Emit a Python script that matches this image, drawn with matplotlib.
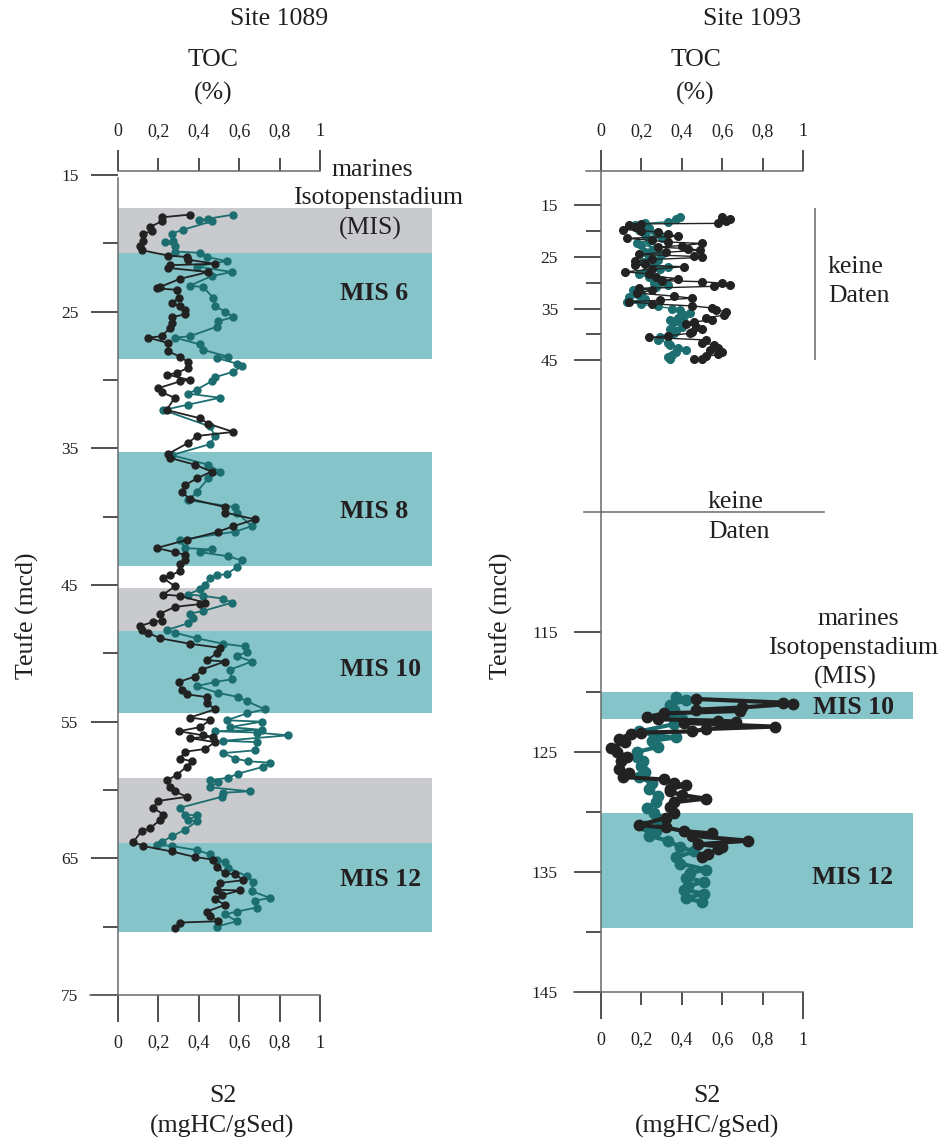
import matplotlib
matplotlib.use('Agg')
import matplotlib.pyplot as plt

plt.rcParams['font.family'] = ['Liberation Serif', 'DejaVu Serif']

# Site 1089 (Teufe in mcd, Werte 0..1)
toc_1089_depth = [17.9, 18.1, 18.4, 18.8, 19.1, 19.3, 19.8, 20.2, 20.5, 20.9, 21.0, 21.2, 21.5, 21.6, 21.8,
                  22.1, 22.6, 23.2, 23.3, 23.4, 24.0, 24.4, 24.6, 24.9, 25.2, 25.4, 25.8, 26.2, 26.8, 26.9,
                  27.3, 27.9, 28.3, 28.7, 29.1, 29.5, 29.6, 30.0, 30.1, 30.6, 30.9, 31.3, 32.2, 32.8, 33.2,
                  33.8, 34.1, 34.6, 35.4, 35.7, 36.2, 36.7, 37.2, 37.7, 38.2, 38.7, 39.3, 39.7, 40.2, 40.7,
                  41.1, 41.7, 42.3, 42.6, 42.8, 43.2, 43.5, 44.0, 44.3, 44.5, 45.1, 45.7, 45.8, 46.3, 46.4,
                  46.6, 47.1, 47.6, 47.7, 48.0, 48.3, 48.5, 48.9, 49.3, 49.6, 50.0, 50.5, 50.6, 51.2, 51.7,
                  52.1, 52.7, 53.0, 53.2, 53.6, 54.1, 54.7, 54.9, 55.4, 55.7, 56.0, 56.1, 56.2, 56.5, 57.0,
                  57.2, 57.7, 57.9, 58.3, 58.9, 59.3, 59.8, 60.1, 60.5, 60.8, 61.3, 61.8, 62.2, 62.8, 63.0,
                  63.8, 64.1, 64.5, 64.9, 65.1, 65.6, 66.1, 66.15, 66.6, 66.8, 67.3, 67.35, 67.7, 68.0, 68.4,
                  68.9, 69.2, 69.6, 69.7, 70.1]
toc_1089 = [0.356, 0.216, 0.216, 0.158, 0.167, 0.125, 0.125, 0.109, 0.117, 0.249, 0.340, 0.348, 0.48, 0.257, 0.249,
            0.447, 0.307, 0.208, 0.191, 0.29, 0.30, 0.266, 0.307, 0.332, 0.332, 0.266, 0.266, 0.257, 0.216, 0.15,
            0.249, 0.249, 0.307, 0.348, 0.348, 0.29, 0.241, 0.356, 0.307, 0.2, 0.216, 0.28, 0.241, 0.406, 0.447,
            0.571, 0.39, 0.348, 0.249, 0.257, 0.381, 0.463, 0.39, 0.332, 0.315, 0.356, 0.53, 0.53, 0.678, 0.571,
            0.497, 0.34, 0.191, 0.282, 0.332, 0.332, 0.307, 0.307, 0.257, 0.224, 0.282, 0.224, 0.307, 0.431, 0.406,
            0.282, 0.208, 0.216, 0.175, 0.109, 0.117, 0.15, 0.208, 0.356, 0.505, 0.489, 0.439, 0.53, 0.414, 0.381,
            0.30, 0.315, 0.34, 0.439, 0.439, 0.48, 0.356, 0.455, 0.406, 0.30, 0.422, 0.472, 0.356, 0.48, 0.431,
            0.332, 0.307, 0.365, 0.34, 0.29, 0.241, 0.257, 0.282, 0.34, 0.2, 0.175, 0.224, 0.208, 0.158, 0.117,
            0.076, 0.125, 0.266, 0.381, 0.472, 0.489, 0.53, 0.579, 0.62, 0.505, 0.489, 0.604, 0.513, 0.48, 0.53,
            0.439, 0.455, 0.497, 0.307, 0.282]

s2_1089_depth = [17.9, 18.2, 18.3, 18.4, 19.0, 19.3, 19.8, 19.9, 20.2, 20.6, 20.7, 21.0, 21.3, 21.7, 22.1,
                 22.4, 23.1, 23.2, 24.0, 24.6, 25.0, 25.4, 25.7, 26.1, 26.8, 26.9, 27.4, 27.8, 28.3, 28.4,
                 28.8, 29.0, 29.4, 29.8, 30.1, 30.7, 31.0, 31.3, 31.8, 32.2, 33.4, 34.1, 34.7, 35.5, 36.2,
                 36.7, 37.2, 38.2, 38.8, 39.3, 39.7, 40.7, 41.1, 41.7, 42.3, 42.4, 42.6, 42.9, 43.2, 43.7,
                 44.2, 44.3, 44.5, 45.0, 45.3, 45.7, 45.8, 46.0, 46.3, 46.9, 47.1, 47.4, 47.8, 48.3, 48.5,
                 48.9, 49.3, 49.5, 49.9, 50.2, 50.6, 51.2, 51.9, 52.1, 52.4, 52.9, 53.2, 53.5, 54.1, 54.4,
                 54.9, 55.0, 55.4, 55.6, 55.7, 55.8, 56.0, 56.4, 56.5, 57.1, 57.3, 57.7, 57.9, 58.0, 58.3,
                 58.8, 59.1, 59.3, 59.4, 59.8, 60.1, 60.2, 60.5, 61.3, 61.8, 61.85, 62.2, 62.3, 62.9, 63.4,
                 63.8, 64.0, 64.1, 64.4, 64.7, 65.1, 65.3, 65.7, 66.3, 66.7, 67.4, 67.9, 68.1, 68.6, 68.9,
                 69.1, 69.6, 70.0]
s2_1089 = [0.571, 0.447, 0.40, 0.463, 0.323, 0.266, 0.274, 0.233, 0.282, 0.282, 0.406, 0.439, 0.538, 0.39, 0.563,
           0.463, 0.356, 0.422, 0.472, 0.48, 0.53, 0.571, 0.497, 0.489, 0.356, 0.282, 0.406, 0.422, 0.546, 0.489,
           0.588, 0.612, 0.571, 0.48, 0.463, 0.39, 0.348, 0.505, 0.348, 0.224, 0.455, 0.48, 0.455, 0.266, 0.447,
           0.505, 0.447, 0.39, 0.348, 0.579, 0.588, 0.662, 0.579, 0.307, 0.332, 0.463, 0.406, 0.546, 0.612, 0.588,
           0.538, 0.489, 0.455, 0.431, 0.406, 0.348, 0.422, 0.521, 0.563, 0.422, 0.356, 0.373, 0.348, 0.241, 0.282,
           0.39, 0.521, 0.629, 0.637, 0.588, 0.662, 0.554, 0.563, 0.48, 0.39, 0.497, 0.596, 0.637, 0.728, 0.637,
           0.538, 0.711, 0.554, 0.711, 0.48, 0.687, 0.843, 0.521, 0.687, 0.678, 0.521, 0.579, 0.645, 0.752, 0.719,
           0.596, 0.546, 0.455, 0.497, 0.455, 0.653, 0.521, 0.513, 0.307, 0.332, 0.39, 0.348, 0.39, 0.332, 0.266,
           0.216, 0.191, 0.266, 0.39, 0.455, 0.489, 0.53, 0.546, 0.637, 0.67, 0.662, 0.752, 0.678, 0.687, 0.588,
           0.53, 0.588, 0.489]

# Site 1093, oberer Abschnitt
toc_1093a_depth = [17.3, 17.6, 18.0, 18.5, 18.6, 18.9, 19.3, 19.7, 19.9, 20.2, 20.6, 21.0, 21.4, 21.8, 22.1,
                   22.4, 22.8, 23.1, 23.4, 23.7, 24.1, 24.5, 24.9, 25.1, 25.5, 25.8, 26.3, 26.6, 26.9, 27.4,
                   27.9, 28.3, 28.8, 29.2, 29.6, 29.8, 30.1, 30.5, 30.7, 31.1, 31.5, 32.0, 32.6, 33.0, 33.4,
                   33.7, 34.1, 34.5, 34.9, 35.2, 35.7, 36.3, 36.8, 37.2, 37.6, 38.0, 38.5, 39.0, 39.5, 39.8,
                   40.3, 40.6, 41.1, 41.6, 42.1, 42.6, 43.0, 43.4, 43.9, 44.3, 44.7, 44.8]
toc_1093a = [0.60, 0.64, 0.62, 0.58, 0.20, 0.14, 0.17, 0.11, 0.20, 0.28, 0.33, 0.38, 0.13, 0.25, 0.33,
             0.50, 0.40, 0.28, 0.43, 0.49, 0.32, 0.19, 0.46, 0.50, 0.25, 0.17, 0.22, 0.17, 0.41, 0.25,
             0.12, 0.24, 0.27, 0.38, 0.30, 0.50, 0.60, 0.64, 0.56, 0.19, 0.25, 0.18, 0.36, 0.45, 0.29,
             0.14, 0.25, 0.45, 0.55, 0.57, 0.62, 0.61, 0.52, 0.55, 0.46, 0.42, 0.47, 0.50, 0.45, 0.44,
             0.33, 0.24, 0.52, 0.50, 0.56, 0.58, 0.54, 0.60, 0.58, 0.52, 0.50, 0.46]
s2_1093a_depth = [17.3, 17.6, 18.2, 18.5, 18.9, 19.4, 19.8, 20.3, 20.8, 21.3, 21.9, 22.3, 22.7, 23.2, 23.6,
                  24.0, 24.5, 25.0, 25.6, 26.0, 26.5, 26.9, 27.4, 27.9, 28.4, 28.9, 29.5, 30.0, 30.5, 30.9,
                  31.4, 31.9, 32.3, 32.7, 33.2, 33.7, 34.2, 34.6, 35.0, 35.3, 35.9, 36.4, 36.8, 37.2, 37.7,
                  38.1, 38.5, 39.0, 39.4, 39.8, 40.3, 40.6, 41.1, 41.6, 42.1, 42.6, 43.0, 43.5, 44.0, 44.4, 44.7]
s2_1093a = [0.39, 0.37, 0.33, 0.22, 0.17, 0.24, 0.19, 0.27, 0.22, 0.30, 0.24, 0.18, 0.20, 0.27, 0.25,
            0.22, 0.30, 0.24, 0.28, 0.21, 0.26, 0.33, 0.29, 0.22, 0.19, 0.24, 0.30, 0.26, 0.33, 0.27,
            0.16, 0.20, 0.19, 0.14, 0.22, 0.13, 0.20, 0.28, 0.35, 0.39, 0.44, 0.41, 0.38, 0.34, 0.36,
            0.40, 0.40, 0.34, 0.37, 0.36, 0.33, 0.29, 0.28, 0.33, 0.34, 0.38, 0.42, 0.37, 0.35, 0.33, 0.34]

# Site 1093, unterer Abschnitt
toc_1093b_depth = [120.6, 120.9, 121.0, 121.3, 121.5, 121.6, 121.8, 122.1, 122.3, 122.4, 122.5, 122.6, 122.9,
                   123.1, 123.3, 123.4, 123.5, 123.9, 124.2, 124.7, 125.0, 125.4, 125.8, 126.4, 126.8, 127.1,
                   127.3, 127.6, 127.8, 128.1, 128.3, 128.6, 128.9, 129.2, 129.6, 130.1, 130.5, 131.1, 131.3,
                   131.6, 131.8, 132.0, 132.4, 132.7, 132.9, 133.1, 133.5, 133.8]
toc_1093b = [0.47, 0.90, 0.95, 0.70, 0.47, 0.69, 0.31, 0.23, 0.28, 0.58, 0.67, 0.41, 0.86,
             0.52, 0.45, 0.20, 0.15, 0.09, 0.12, 0.05, 0.08, 0.13, 0.10, 0.09, 0.14, 0.11,
             0.31, 0.36, 0.42, 0.34, 0.34, 0.40, 0.52, 0.36, 0.34, 0.36, 0.32, 0.19, 0.32,
             0.41, 0.55, 0.45, 0.73, 0.48, 0.60, 0.58, 0.53, 0.50]
s2_1093b_depth = [120.4, 120.7, 121.1, 121.5, 121.9, 122.3, 122.7, 123.3, 123.6, 123.8, 124.1, 124.6, 125.0,
                  125.4, 125.8, 126.2, 126.7, 127.1, 127.6, 128.1, 128.7, 129.2, 129.7, 130.1, 130.6, 131.2,
                  131.6, 132.0, 132.4, 132.9, 133.3, 133.8, 134.3, 134.8, 135.1, 135.5, 135.8, 136.2, 136.5,
                  136.8, 137.2, 137.5]
s2_1093b = [0.37, 0.42, 0.34, 0.36, 0.35, 0.40, 0.36, 0.19, 0.26, 0.37, 0.25, 0.28, 0.18,
            0.18, 0.21, 0.20, 0.22, 0.19, 0.25, 0.24, 0.28, 0.27, 0.23, 0.26, 0.28, 0.22,
            0.27, 0.24, 0.33, 0.39, 0.46, 0.37, 0.39, 0.52, 0.44, 0.42, 0.51, 0.43, 0.41,
            0.51, 0.42, 0.50]

# Isotopenstadien (von, bis, Farbe)
mis_1089 = [(17.4, 20.7, 'gray'), (20.7, 28.5, 'teal'), (35.3, 43.6, 'teal'), (45.2, 48.4, 'gray'),
            (48.4, 54.4, 'teal'), (59.1, 63.9, 'gray'), (63.9, 70.4, 'teal')]
mis_1093 = [(120.05, 122.25, 'teal'), (130.1, 139.7, 'teal')]

xticks = [0, 0.2, 0.4, 0.6, 0.8, 1]
xlabels = ['0', '0,2', '0,4', '0,6', '0,8', '1']

TXT = '#231f20'
BLK = '#222222'
TEAL = '#1c6e70'
band_col = {'teal': '#85c4c9', 'gray': '#c9cacd'}
SPINE = '#6a6a6a'
W, H = 942, 1140


def box(x0, y0, x1, y1):
    return [x0 / W, 1 - y1 / H, (x1 - x0) / W, (y1 - y0) / H]


def ftext(x, y, s, **kw):
    kw.setdefault('fontsize', 18.5)
    kw.setdefault('color', TXT)
    kw.setdefault('ha', 'center')
    kw.setdefault('va', 'center')
    fig.text(x / W, 1 - y / H, s, **kw)


def style_y(ax, major, minor, pad):
    ax.set_yticks(major)
    ax.set_yticks(minor, minor=True)
    ax.set_yticklabels([str(v) for v in major])
    ax.tick_params(axis='y', which='major', length=19.5, width=1.1, pad=pad, labelsize=12.5,
                   color=TXT, labelcolor=TXT)
    ax.tick_params(axis='y', which='minor', length=10.5, width=1.1, color=TXT)


def x_ticks(ax, side, major_len, minor_len, pad):
    ax.set_xticks([0, 1], labels=['0', '1'])
    ax.set_xticks(xticks[1:-1], labels=xlabels[1:-1], minor=True)
    if side == 'top':
        ax.xaxis.tick_top()
    else:
        ax.xaxis.tick_bottom()
    ax.tick_params(axis='x', which='major', length=major_len, width=1.1, pad=pad, labelsize=13,
                   color=TXT, labelcolor=TXT)
    ax.tick_params(axis='x', which='minor', length=minor_len, width=1.1,
                   pad=pad + (major_len - minor_len), labelsize=13, color=TXT, labelcolor=TXT)


fig = plt.figure(figsize=(W / 100, H / 100), dpi=100)

# ---------------- Site 1089 ----------------
ax1 = fig.add_axes(box(118, 171, 432, 995))
ax1.set_xlim(0, 314 / 202)
ax1.set_ylim(75, 14.71)
for d0, d1, c in mis_1089:
    ax1.axhspan(d0, d1, color=band_col[c], lw=0, zorder=0)
ax1.plot(s2_1089, s2_1089_depth, '-o', color=TEAL, lw=1.3, ms=5, zorder=2, clip_on=False)
ax1.plot(toc_1089, toc_1089_depth, '-o', color=BLK, lw=1.3, ms=5, zorder=3, clip_on=False)
for s in ['top', 'right']:
    ax1.spines[s].set_visible(False)
ax1.spines['left'].set_bounds(15.2, 75)
ax1.spines['bottom'].set_bounds(-0.139, 1)
for s in ['left', 'bottom']:
    ax1.spines[s].set_color(SPINE)
    ax1.spines[s].set_linewidth(1.1)
style_y(ax1, [15, 25, 35, 45, 55, 65, 75], [20, 30, 40, 50, 60, 70], 9)
x_ticks(ax1, 'bottom', 19.5, 19.5, 9)

ax1t = ax1.twiny()
ax1t.set_xlim(ax1.get_xlim())
for s in ['bottom', 'left', 'right']:
    ax1t.spines[s].set_visible(False)
ax1t.spines['top'].set_bounds(0, 1)
ax1t.spines['top'].set_color(SPINE)
ax1t.spines['top'].set_linewidth(1.1)
x_ticks(ax1t, 'top', 15, 9.4, 7)

# ---------------- Site 1093 oben ----------------
ax2 = fig.add_axes(box(601, 171, 913, 512))
ax2.set_xlim(0, 312 / 202)
ax2.set_ylim(74.44, 8.35)
ax2.plot(s2_1093a, s2_1093a_depth, '-o', color=TEAL, lw=1.0, ms=5.5, zorder=2)
ax2.plot(toc_1093a, toc_1093a_depth, '-o', color=BLK, lw=1.0, ms=5.5, zorder=3)
ax2.vlines(1.06, 15.5, 45.0, color=SPINE, lw=1.1)
for s in ['bottom', 'right']:
    ax2.spines[s].set_visible(False)
ax2.spines['top'].set_bounds(-0.074, 1)
for s in ['left', 'top']:
    ax2.spines[s].set_color(SPINE)
    ax2.spines[s].set_linewidth(1.1)
style_y(ax2, [15, 25, 35, 45], [20, 30, 40], 11.5)
x_ticks(ax2, 'top', 15, 9.4, 7)

# ---------------- Site 1093 unten ----------------
ax3 = fig.add_axes(box(601, 512, 913, 992))
ax3.set_xlim(0, 312 / 202)
ax3.set_ylim(145, 105.03)
for d0, d1, c in mis_1093:
    ax3.axhspan(d0, d1, color=band_col[c], lw=0, zorder=0)
ax3.plot(s2_1093b, s2_1093b_depth, '-o', color=TEAL, lw=3, ms=7.5, zorder=2)
ax3.plot(toc_1093b, toc_1093b_depth, '-o', color=BLK, lw=3, ms=7.5, zorder=3)
ax3.spines['right'].set_visible(False)
ax3.spines['top'].set_bounds(-0.084, 1.104)
ax3.spines['bottom'].set_bounds(-0.134, 1)
for s in ['left', 'top', 'bottom']:
    ax3.spines[s].set_color(SPINE)
    ax3.spines[s].set_linewidth(1.1)
style_y(ax3, [115, 125, 135, 145], [120, 130, 140], 11.5)
x_ticks(ax3, 'bottom', 19.5, 9.4, 9)

# ---------------- Beschriftung ----------------
ftext(279, 19, 'Site 1089')
ftext(213, 60, 'TOC')
ftext(213, 93, '(%)')
ftext(752, 19, 'Site 1093')
ftext(696, 60, 'TOC')
ftext(695, 93, '(%)')

ftext(372, 170, 'marines')
ftext(378, 198, 'Isotopenstadium')
ftext(370, 228, '(MIS)')
for lab, y in [('MIS 6', 294), ('MIS 8', 511), ('MIS 10', 669), ('MIS 12', 880)]:
    ftext(340, y, lab, ha='left', fontweight='bold')

ftext(828, 267, 'keine', ha='left')
ftext(828, 296, 'Daten', ha='left')
ftext(708, 502, 'keine', ha='left')
ftext(708, 532, 'Daten', ha='left')
ftext(858, 619, 'marines')
ftext(853, 648, 'Isotopenstadium')
ftext(845, 677, '(MIS)')
ftext(813, 707, 'MIS 10', ha='left', fontweight='bold')
ftext(812, 877, 'MIS 12', ha='left', fontweight='bold')

ftext(27, 616, 'Teufe (mcd)', rotation=90)
ftext(501, 616, 'Teufe (mcd)', rotation=90)
ftext(223, 1096, 'S2')
ftext(222, 1126, '(mgHC/gSed)')
ftext(707, 1096, 'S2')
ftext(707, 1126, '(mgHC/gSed)')

fig.savefig('out.png', dpi=100)
